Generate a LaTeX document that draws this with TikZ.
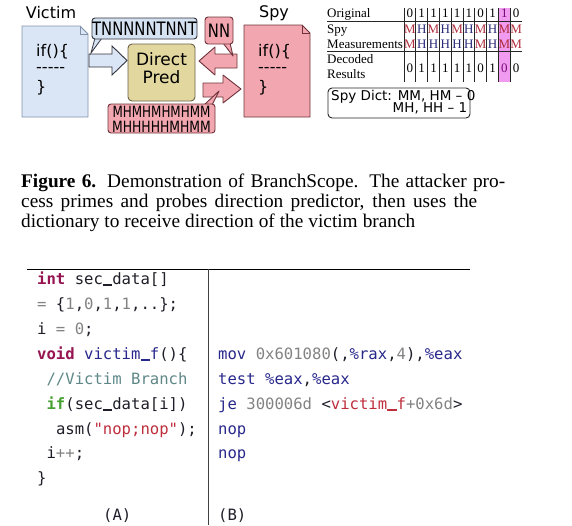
\documentclass[tikz,border=0pt]{standalone}
\usepackage{fontspec}
\usepackage{graphicx}
\newfontfamily\dvs{DejaVu Sans}[Ligatures=TeXOff]
\newfontfamily\dvm{DejaVu Sans Mono}[Ligatures=TeXOff]
\newfontfamily\lser{Liberation Serif}
\definecolor{docblue}{RGB}{218,230,246}
\definecolor{docblueline}{RGB}{130,145,170}
\definecolor{calblue}{RGB}{212,226,242}
\definecolor{darkline}{RGB}{50,50,60}
\definecolor{pinkf}{RGB}{242,166,175}
\definecolor{pinkline}{RGB}{110,50,58}
\definecolor{khaki}{RGB}{227,215,160}
\definecolor{khakiline}{RGB}{105,96,70}
\definecolor{hlpink}{RGB}{240,155,240}
\definecolor{hltext}{RGB}{120,10,120}
\definecolor{mred}{RGB}{175,45,60}
\definecolor{hblue}{RGB}{40,40,120}
\definecolor{kwc}{RGB}{150,20,80}
\definecolor{ifc}{RGB}{70,160,50}
\definecolor{fnc}{RGB}{40,40,140}
\definecolor{numc}{RGB}{130,130,130}
\definecolor{cmc}{RGB}{95,135,135}
\definecolor{stc}{RGB}{190,45,60}
\definecolor{codetext}{RGB}{30,30,40}
\newcommand\ckw[1]{\textcolor{kwc}{\bfseries #1}}
\newcommand\cif[1]{\textcolor{ifc}{\bfseries #1}}
\newcommand\cfn[1]{\textcolor{fnc}{#1}}
\newcommand\cnum[1]{\textcolor{numc}{#1}}
\newcommand\ccmt[1]{\textcolor{cmc}{#1}}
\newcommand\cstr[1]{\textcolor{stc}{#1}}
\newcommand\us{\makebox[0.602em][c]{\rule[-0.1em]{0.6em}{0.075em}}}
\begin{document}
\begin{tikzpicture}[x=1pt,y=-1pt,
  lbl/.style={font=\dvs\fontsize{16}{19}\selectfont, inner sep=0pt},
  doctxt/.style={font=\dvs\fontsize{16}{19}\selectfont, inner sep=0pt, anchor=west},
  blueshape/.style={fill=docblue, draw=docblueline, line width=0.9pt, line join=round},
  pinkshape/.style={fill=pinkf, draw=pinkline, line width=0.9pt, line join=round},
  callbox/.style={rounded corners=3pt, line width=0.9pt, inner sep=0pt},
  tabtxt/.style={font=\lser\fontsize{13}{15}\selectfont, inner sep=0pt},
  tabline/.style={line width=0.8pt, draw=black!85},
  letM/.style={text=mred},
  letH/.style={text=hblue},
  code/.style={font=\dvm\fontsize{15.6}{18}\selectfont, inner sep=0pt, anchor=base west, text=codetext},
  capl/.style={font=\lser\fontsize{19.3}{20}\selectfont, inner sep=0pt, anchor=base west}
]
\useasboundingbox (0,0) rectangle (572,525);

% ---------- documents ----------
\path[blueshape] (22,26) -- (80,26) -- (88,34) -- (88,117) -- (22,117) -- cycle;
\draw[docblueline, line width=0.7pt] (80,26) -- (80,34) -- (88,34);
\path[pinkshape] (244,25) -- (302,25) -- (310,33) -- (310,117) -- (244,117) -- cycle;
\draw[pinkline, line width=0.7pt] (302,25) -- (302,33) -- (310,33);

\node[lbl] (victim) at (51,13) {Victim};
\node[lbl] (spy) at (274,13) {Spy};
\node[doctxt] (v1) at (36,52) {if()\{};
\node[doctxt] (v2) at (36,70) {-----};
\node[doctxt] (v3) at (36,88) {\}};
\node[doctxt] (s1) at (258,52) {if()\{};
\node[doctxt] (s2) at (258,70) {-----};
\node[doctxt] (s3) at (258,88) {\}};

% ---------- block arrows ----------
\path[fill=docblue, draw=darkline, line width=0.9pt, line join=miter]
  (89,54) -- (112,54) -- (112,46) -- (127,60.5) -- (112,75) -- (112,67) -- (89,67) -- cycle;
\path[pinkshape, draw=pinkline]
  (237,54) -- (215,54) -- (215,47) -- (199,61) -- (215,75) -- (215,68) -- (237,68) -- cycle;
\path[pinkshape, draw=pinkline]
  (203,83) -- (223,83) -- (223,75) -- (241,89) -- (223,103) -- (223,97) -- (203,97) -- cycle;

% ---------- direct predictor ----------
\node[fill=khaki, draw=khakiline, line width=0.9pt, rounded corners=4pt,
      minimum width=67pt, minimum height=57pt, inner sep=0pt] (pred) at (161.5,72.5) {};
\node[lbl, font=\dvs\fontsize{17}{19}\selectfont] (predt1) at (161.5,59) {Direct};
\node[lbl, font=\dvs\fontsize{17}{19}\selectfont] (predt2) at (161.5,77) {Pred};

% ---------- callouts ----------
\path[fill=calblue, draw=darkline, line width=0.8pt] (95,38) -- (91,53) -- (102,38) -- cycle;
\node[callbox, fill=calblue, draw=darkline, minimum width=105pt, minimum height=21pt] (tnn) at (144.5,28.5) {};
\node[lbl] (tnnt) at (144.5,29) {\scalebox{0.8}[1]{\fontsize{18.5}{20}\selectfont TNNNNNTNNT}};

\path[pinkshape] (223,43) -- (233,56) -- (230,43) -- cycle;
\node[callbox, fill=pinkf, draw=pinkline, minimum width=28pt, minimum height=27pt] (nn) at (219,30.5) {};
\node[lbl] (nnt) at (219,30.5) {\scalebox{0.8}[1]{\fontsize{18.5}{20}\selectfont NN}};

\path[pinkshape] (204,105) -- (219,91) -- (212,105) -- cycle;
\node[callbox, fill=pinkf, draw=pinkline, minimum width=107pt, minimum height=29pt] (mh) at (161.5,118.5) {};
\node[lbl, font=\dvs\fontsize{15.5}{13}\selectfont] (mht) at (161.5,121)
  {\begin{tabular}{@{}c@{}}\scalebox{0.77}[1]{MHMHMHMHMM}\\\scalebox{0.8}[1]{MHHHHHMHMM}\end{tabular}};

% ---------- table ----------
\fill[hlpink] (498.4,8) rectangle (510.2,82);
\draw[tabline] (327,21) -- (522,21);
\draw[tabline] (327,51) -- (522,51);
\foreach \k in {0,...,9} \draw[tabline] ({404+11.8*\k},8) -- ({404+11.8*\k},82);
\node[tabtxt, anchor=base west] (orig) at (327,17) {Original};
\node[tabtxt, anchor=base west] (spyr) at (327,33) {Spy};
\node[tabtxt, anchor=base west] (meas) at (327,48) {Measurements};
\node[tabtxt, anchor=base west] (deco) at (327,63) {Decoded};
\node[tabtxt, anchor=base west] (resu) at (327,78) {Results};
\foreach \v/\c [count=\i from 0] in {0/black,1/black,1/black,1/black,1/black,1/black,0/black,1/black,1/hltext,0/black}
  \node[tabtxt, anchor=base, text=\c] (o\i) at ({409.9+11.8*\i},17) {\v};
\foreach \v [count=\i from 0] in {M,H,M,H,M,H,M,H,M,M}
  \node[tabtxt, anchor=base, let\v] (sp\i) at ({409.9+11.8*\i},33) {\v};
\foreach \v [count=\i from 0] in {M,H,H,H,H,H,M,H,M,M}
  \node[tabtxt, anchor=base, let\v] (me\i) at ({409.9+11.8*\i},48) {\v};
\foreach \v/\c [count=\i from 0] in {0/black,1/black,1/black,1/black,1/black,1/black,0/black,1/black,0/hltext,0/black}
  \node[tabtxt, anchor=base, text=\c] (d\i) at ({409.9+11.8*\i},72) {\v};

\node[draw=black!85, line width=0.9pt, rounded corners=4pt, minimum width=142pt, minimum height=30pt, inner sep=0pt] (dict) at (399,103) {};
\node[font=\dvs\fontsize{13.5}{14}\selectfont, inner sep=0pt, anchor=base west] (dict1) at (331,100.5) {Spy Dict: MM, HM – 0};
\node[font=\dvs\fontsize{13.5}{14}\selectfont, inner sep=0pt, anchor=base west] (dict2) at (392.5,112.5) {MH, HH – 1};

% ---------- caption ----------
\node[capl] (cap1) at (21,187) {\makebox[484pt][s]{\textbf{Figure 6.} Demonstration of BranchScope. The attacker pro-}};
\node[capl] (cap2) at (21,207) {\makebox[456pt][s]{cess primes and probes direction predictor, then uses the}};
\node[capl] (cap3) at (21,227) {\makebox[394pt][s]{dictionary to receive direction of the victim branch}};

% ---------- code ----------
\coordinate (hl1) at (27,269);
\coordinate (hl2) at (470,269);
\coordinate (vl1) at (208,269);
\coordinate (vl2) at (208,525);
\draw[line width=0.9pt] (hl1) -- (hl2);
\draw[line width=0.9pt, draw=black!75] (vl1) -- (vl2);

\node[code] (a1) at (37,284) {\ckw{int} sec\us data[]};
\node[code] (a2) at (37,309) {\cnum{=} \{\cnum{1},\cnum{0},\cnum{1},\cnum{1},..\};};
\node[code] (a3) at (37,334) {i \cnum{=} \cnum{0};};
\node[code] (a4) at (37,359) {\ckw{void} \cfn{victim\us f}()\{};
\node[code] (a5) at (46.4,384) {\ccmt{//Victim Branch}};
\node[code] (a6) at (46.4,409) {\cif{if}(sec\us data[i])};
\node[code] (a7) at (55.8,434) {asm(\cstr{"nop;nop"});};
\node[code] (a8) at (46.4,458) {i\cnum{++};};
\node[code] (a9) at (37,483) {\}};
\node[code] (capA) at (103,520) {(A)};

\node[code] (b1) at (218,359) {\cfn{mov} \cnum{0x601080}(,\cfn{\%rax},\cnum{4}),\cfn{\%eax}};
\node[code] (b2) at (218,384) {\cfn{test} \cfn{\%eax},\cfn{\%eax}};
\node[code] (b3) at (218,409) {\cfn{je} \cnum{300006d} <\cstr{victim\us f}\cnum{+0x6d}>};
\node[code] (b4) at (218,434) {\cfn{nop}};
\node[code] (b5) at (218,458) {\cfn{nop}};
\node[code] (capB) at (218,520) {(B)};
\end{tikzpicture}
\end{document}
